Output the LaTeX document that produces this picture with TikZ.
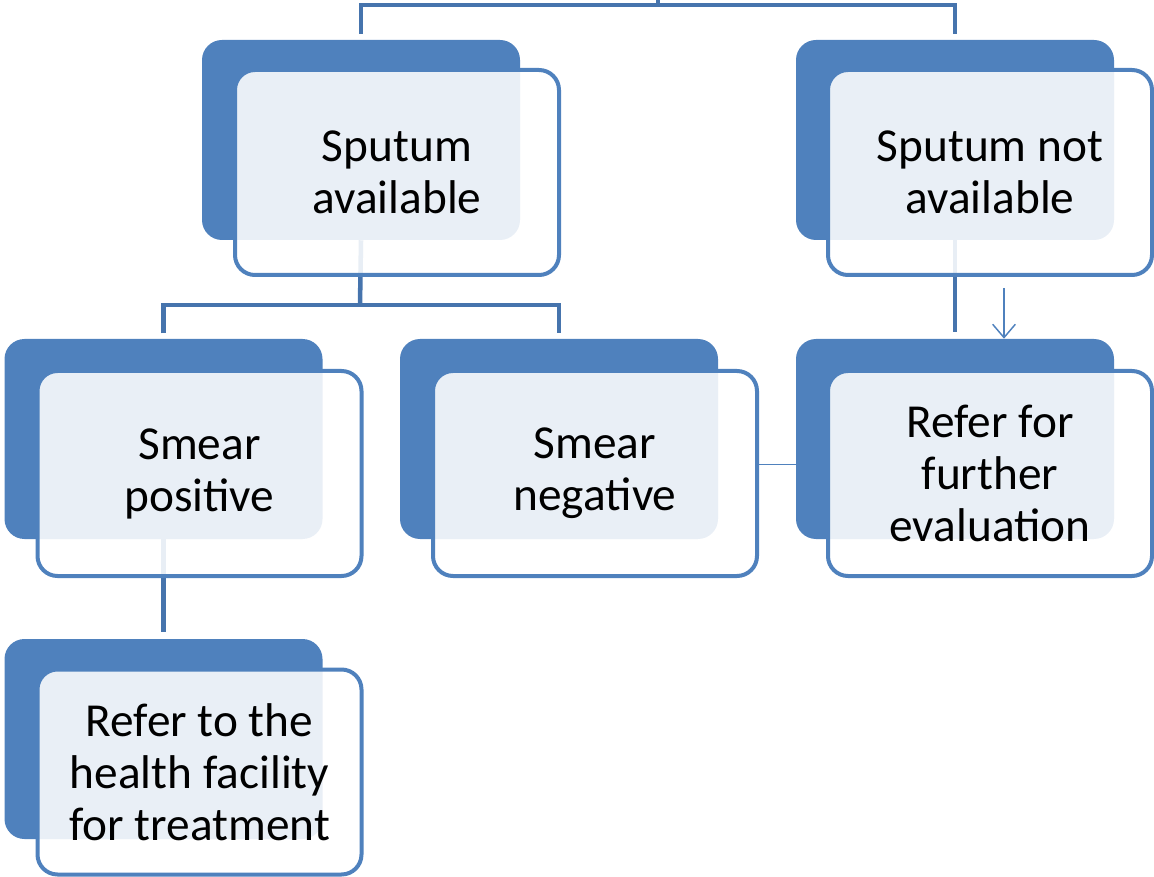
\documentclass[tikz,border=0pt]{standalone}
\usepackage{fontspec}
\setmainfont{Carlito}
\usetikzlibrary{arrows.meta}
\pgfdeclarelayer{bg}
\pgfsetlayers{bg,main}
\definecolor{boxblue}{HTML}{4F81BD}
\definecolor{connblue}{HTML}{4674AD}
\tikzset{
  backbox/.style={rectangle, rounded corners=15pt, fill=boxblue, draw=none,
    minimum width=238.5pt, minimum height=150pt, inner sep=0pt},
  frontbox/.style={rectangle, rounded corners=15pt, draw=boxblue, line width=3pt,
    fill=white, fill opacity=0.88, text opacity=1, draw opacity=1,
    minimum width=243pt, minimum height=153.75pt, inner sep=0pt, align=center,
    font=\fontsize{35.5}{39}\selectfont},
  conn/.style={draw=connblue, line width=3.4pt},
  thinconn/.style={draw=boxblue, line width=1.1pt},
}
\begin{document}
\begin{tikzpicture}[x=0.75pt, y=-0.75pt]
\useasboundingbox (0,0) rectangle (1154,877);
% boxes
\node[backbox] (b1) at (361,140) {};
\node[frontbox] (f1) at (397,172.5) {Sputum\\available};
\node[backbox] (b2) at (955,140) {};
\node[frontbox] (f2) at (990,172.5) {Sputum not\\available};
\node[backbox] (b3) at (163.5,439) {};
\node[frontbox] (f3) at (199.5,473.5) {Smear\\positive};
\node[backbox] (b4) at (559,439) {};
\node[frontbox] (f4) at (595,473.5) {Smear\\negative};
\node[backbox] (b5) at (955,439) {};
\node[frontbox] (f5) at (990,473.5) {Refer for\\further\\evaluation};
\node[backbox] (b6) at (163.5,739) {};
\node[frontbox] (f6) at (199.5,772) {Refer to the\\health facility\\for treatment};
\coordinate (top) at (658,-3);
\coordinate (hub) at (658,5);
\coordinate (j1) at (360,305);
\begin{pgfonlayer}{bg}
\draw[conn] (top) -- (hub);
\draw[conn] ([yshift=4.5pt]b1.north) |- (hub) -| ([yshift=4.5pt]b2.north);
\draw[conn] (b1.south) -- (j1);
\draw[conn] ([yshift=4pt]b3.north) |- (j1) -| ([yshift=4pt]b4.north);
\draw[conn] (b2.south) -- ([yshift=5pt]b5.north);
\draw[conn] (b3.south) -- ([yshift=5pt]b6.north);
\draw[thinconn] ([yshift=6.75pt]f4.east) -- ([yshift=6.75pt]f5.west);
\end{pgfonlayer}
\draw[thinconn, -{Straight Barb[length=10pt,width=17pt,line width=1.1pt]}]
  ([xshift=10.5pt,yshift=-8.25pt]f2.south) -- ([xshift=36.75pt]b5.north);
\end{tikzpicture}
\end{document}
